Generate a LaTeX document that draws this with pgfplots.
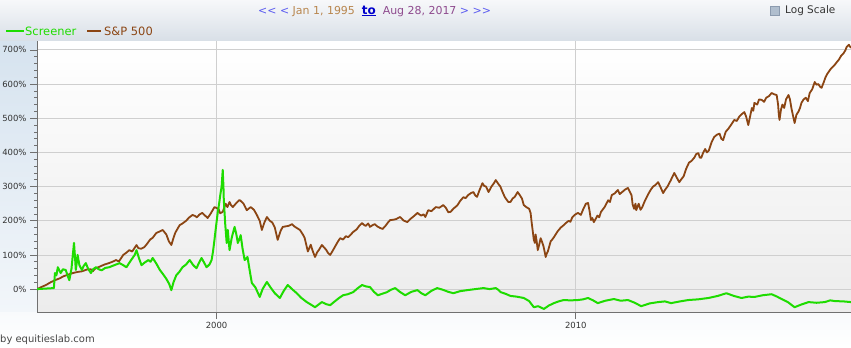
\documentclass[border=0pt]{standalone}
\usepackage{fontspec}
\setmainfont{DejaVu Sans}
\newfontfamily\plainfont{DejaVu Sans}
\usepackage{pgfplots}
\pgfplotsset{compat=1.18}
\definecolor{scr}{HTML}{1EDC00}
\definecolor{spx}{HTML}{8B4513}
\definecolor{navb}{HTML}{5A5AF0}
\definecolor{datea}{HTML}{B8864E}
\definecolor{dateb}{HTML}{8E4A8E}
\definecolor{gridc}{HTML}{CFCFCF}
\definecolor{axc}{HTML}{707070}
\definecolor{txtc}{HTML}{333333}

\pgfplotstableread{
x y
1995.00 0
1995.12 6
1995.25 12
1995.38 20
1995.50 26
1995.62 31
1995.75 38
1995.88 43
1996.00 47
1996.12 50
1996.25 52
1996.38 57
1996.50 58
1996.55 52
1996.62 60
1996.75 66
1996.88 72
1997.00 76
1997.10 80
1997.20 85
1997.28 81
1997.40 100
1997.48 106
1997.57 114
1997.65 110
1997.77 129
1997.82 120
1997.90 118
1997.99 123
1998.06 132
1998.15 145
1998.22 150
1998.32 164
1998.40 168
1998.50 173
1998.56 165
1998.60 160
1998.67 140
1998.74 129
1998.80 150
1998.85 165
1998.92 178
1998.97 187
1999.05 192
1999.15 200
1999.24 210
1999.33 217
1999.40 214
1999.45 210
1999.52 218
1999.60 223
1999.68 215
1999.75 208
1999.84 222
1999.94 240
2000.05 235
2000.10 222
2000.17 226
2000.25 250
2000.30 240
2000.36 255
2000.40 246
2000.45 240
2000.55 252
2000.64 261
2000.70 255
2000.75 250
2000.84 231
2000.90 236
2000.95 240
2001.04 232
2001.12 217
2001.20 200
2001.26 173
2001.33 195
2001.40 211
2001.48 200
2001.55 195
2001.62 180
2001.70 144
2001.78 170
2001.84 182
2002.00 185
2002.10 190
2002.17 183
2002.23 179
2002.32 173
2002.40 160
2002.45 150
2002.50 128
2002.54 110
2002.58 120
2002.62 130
2002.68 110
2002.74 94
2002.80 108
2002.85 115
2002.93 129
2003.00 121
2003.05 115
2003.10 106
2003.16 100
2003.22 110
2003.30 125
2003.37 138
2003.44 149
2003.52 145
2003.60 155
2003.66 152
2003.72 158
2003.80 167
2003.90 175
2003.97 185
2004.05 193
2004.10 188
2004.15 185
2004.22 192
2004.27 182
2004.34 187
2004.40 190
2004.48 183
2004.55 179
2004.62 176
2004.70 185
2004.77 195
2004.83 202
2004.92 203
2005.00 205
2005.05 208
2005.11 211
2005.20 201
2005.31 196
2005.38 204
2005.45 210
2005.52 216
2005.59 223
2005.65 218
2005.70 215
2005.76 219
2005.81 211
2005.89 231
2005.98 228
2006.10 240
2006.20 238
2006.31 246
2006.38 238
2006.45 225
2006.51 226
2006.60 236
2006.70 245
2006.78 258
2006.87 269
2006.93 266
2007.00 275
2007.08 281
2007.15 284
2007.20 274
2007.25 270
2007.32 290
2007.40 310
2007.45 302
2007.50 300
2007.57 284
2007.61 292
2007.65 300
2007.72 310
2007.77 319
2007.84 308
2007.90 300
2007.96 284
2008.02 270
2008.05 265
2008.12 255
2008.18 255
2008.24 265
2008.30 270
2008.38 284
2008.44 275
2008.50 265
2008.55 246
2008.62 240
2008.70 235
2008.74 223
2008.77 195
2008.80 170
2008.83 144
2008.86 135
2008.88 160
2008.91 140
2008.94 114
2008.98 130
2009.02 149
2009.06 138
2009.10 125
2009.13 110
2009.16 94
2009.19 104
2009.22 110
2009.26 125
2009.30 140
2009.35 146
2009.39 152
2009.45 162
2009.50 170
2009.58 180
2009.66 187
2009.72 193
2009.80 200
2009.85 197
2009.90 210
2009.98 218
2010.06 223
2010.14 217
2010.21 235
2010.28 250
2010.34 252
2010.38 230
2010.42 202
2010.46 208
2010.50 196
2010.55 205
2010.60 215
2010.65 210
2010.70 226
2010.80 240
2010.90 260
2010.95 255
2011.00 275
2011.08 280
2011.17 290
2011.22 278
2011.30 285
2011.38 292
2011.45 296
2011.50 285
2011.55 275
2011.58 248
2011.62 235
2011.66 250
2011.68 231
2011.72 242
2011.75 250
2011.80 232
2011.85 240
2011.92 258
2012.00 275
2012.08 290
2012.15 300
2012.22 305
2012.29 313
2012.35 300
2012.43 281
2012.48 290
2012.55 300
2012.64 318
2012.74 340
2012.80 328
2012.88 313
2012.94 322
2013.00 330
2013.07 352
2013.15 370
2013.22 375
2013.30 385
2013.35 395
2013.41 398
2013.45 385
2013.49 384
2013.54 398
2013.60 410
2013.65 400
2013.70 405
2013.78 430
2013.85 445
2013.93 452
2014.00 455
2014.05 440
2014.10 436
2014.17 460
2014.25 470
2014.33 482
2014.41 495
2014.48 492
2014.55 505
2014.62 512
2014.69 518
2014.74 505
2014.80 480
2014.85 505
2014.90 530
2014.94 522
2014.97 545
2015.05 540
2015.10 555
2015.17 554
2015.24 548
2015.30 560
2015.38 565
2015.45 574
2015.52 570
2015.59 568
2015.63 540
2015.65 510
2015.67 495
2015.71 525
2015.75 540
2015.80 530
2015.85 555
2015.92 568
2015.96 555
2016.00 530
2016.05 505
2016.09 486
2016.14 510
2016.20 520
2016.24 530
2016.28 545
2016.34 555
2016.40 560
2016.46 550
2016.51 574
2016.58 585
2016.65 606
2016.70 598
2016.75 600
2016.80 592
2016.84 589
2016.90 605
2016.95 620
2017.00 630
2017.04 636
2017.10 645
2017.15 650
2017.22 658
2017.27 665
2017.32 671
2017.38 682
2017.45 690
2017.50 698
2017.54 709
2017.60 715
2017.63 710
2017.66 706
}\spxdata

\pgfplotstableread{
x y
1995.00 0
1995.47 3
1995.50 47
1995.54 40
1995.58 64
1995.62 55
1995.66 47
1995.72 58
1995.80 56
1995.85 40
1995.90 26
1995.96 60
1996.03 135
1996.06 90
1996.08 56
1996.11 80
1996.13 100
1996.18 70
1996.25 56
1996.30 68
1996.36 76
1996.42 60
1996.50 47
1996.56 58
1996.64 64
1996.72 58
1996.80 55
1996.90 62
1997.01 64
1997.15 70
1997.30 76
1997.40 70
1997.49 64
1997.60 82
1997.72 100
1997.77 114
1997.84 90
1997.91 70
1998.00 78
1998.10 85
1998.16 80
1998.22 91
1998.32 75
1998.42 56
1998.50 45
1998.60 30
1998.68 15
1998.74 -3
1998.80 20
1998.88 41
1998.96 50
1999.05 64
1999.15 72
1999.25 85
1999.35 70
1999.44 61
1999.50 75
1999.58 91
1999.65 78
1999.72 64
1999.80 72
1999.86 85
1999.90 110
1999.94 144
1999.98 180
2000.03 223
2000.07 250
2000.11 281
2000.14 300
2000.17 349
2000.19 300
2000.20 261
2000.24 190
2000.28 135
2000.31 173
2000.36 114
2000.42 150
2000.50 182
2000.55 160
2000.59 135
2000.63 145
2000.67 158
2000.72 120
2000.78 85
2000.86 94
2000.92 55
2000.98 18
2001.08 5
2001.20 -23
2001.28 0
2001.40 21
2001.50 5
2001.62 -12
2001.70 -20
2001.76 -26
2001.87 -5
2001.98 12
2002.10 0
2002.23 -12
2002.35 -25
2002.51 -38
2002.62 -45
2002.74 -53
2002.84 -45
2002.93 -38
2003.05 -44
2003.16 -47
2003.30 -35
2003.42 -25
2003.52 -18
2003.65 -15
2003.80 -9
2003.92 2
2004.05 12
2004.15 8
2004.27 6
2004.38 -8
2004.49 -18
2004.60 -14
2004.74 -9
2004.85 -2
2004.97 3
2005.10 -8
2005.25 -18
2005.42 -8
2005.59 -3
2005.70 -12
2005.81 -18
2005.98 -5
2006.14 3
2006.30 -2
2006.45 -8
2006.59 -12
2006.78 -6
2006.98 -3
2007.20 0
2007.43 3
2007.60 0
2007.77 3
2007.84 -2
2007.91 -9
2008.05 -14
2008.18 -20
2008.35 -22
2008.55 -26
2008.70 -35
2008.83 -53
2008.95 -50
2009.11 -58
2009.25 -48
2009.39 -41
2009.52 -36
2009.66 -32
2009.85 -33
2010.06 -32
2010.20 -30
2010.34 -26
2010.48 -33
2010.61 -41
2010.82 -34
2011.06 -29
2011.25 -34
2011.45 -32
2011.64 -40
2011.82 -50
2012.05 -42
2012.29 -38
2012.48 -36
2012.65 -41
2012.90 -36
2013.13 -32
2013.40 -30
2013.69 -26
2013.95 -20
2014.19 -12
2014.40 -20
2014.61 -26
2014.80 -22
2014.97 -23
2015.20 -18
2015.45 -15
2015.60 -22
2015.73 -29
2015.90 -38
2016.09 -53
2016.28 -45
2016.48 -38
2016.70 -40
2016.93 -38
2017.08 -33
2017.21 -35
2017.45 -36
2017.66 -38
}\scrdata

\begin{document}
\begin{tikzpicture}[x=1bp,y=1bp]
\fill[white] (0,0) rectangle (851,347);
\shade[top color={rgb,255:red,247;green,248;blue,250}, bottom color={rgb,255:red,216;green,223;blue,231}] (0,306) rectangle (851,347);
\shade[top color={rgb,255:red,214;green,227;blue,239}, bottom color={rgb,255:red,242;green,246;blue,250}] (0,35) rectangle (37,306);
\shade[top color={rgb,255:red,248;green,250;blue,252}, bottom color=white] (0,0) rectangle (851,35);
\useasboundingbox (0,0) rectangle (851,347);
\begin{axis}[
  at={(37bp,35bp)}, anchor=south west,
  scale only axis, width=814bp, height=271bp,
  xmin=1995, xmax=2017.66, ymin=-67, ymax=726,
  axis background/.style={shade, top color=white, bottom color={rgb,255:red,236;green,236;blue,236}},
  axis x line*=bottom, axis y line*=left,
  axis line style={axc, line width=0.9bp, -},
  xtick={2000,2010}, xticklabels={2000,2010},
  ytick={0,100,...,700},
  yticklabel={\pgfmathprintnumber{\tick}\%},
  minor y tick num=4,
  tick align=outside,
  major tick length=7bp, minor tick length=3bp,
  tick style={axc, line width=0.7bp},
  xmajorgrids, ymajorgrids,
  major grid style={gridc, line width=0.8bp},
  extra y ticks={0}, extra y tick labels={},
  extra y tick style={grid style={color={rgb,255:red,90;green,90;blue,90}, line width=1.1bp}, major tick length=0bp},
  ticklabel style={font=\fontsize{8.5}{10}\selectfont, text=txtc},
  /pgf/number format/assume math mode=true,
  /pgf/number format/1000 sep={},
  clip=true,
]
\addplot[spx, line width=1.8bp, line join=round] table[x=x,y=y] {\spxdata};
\addplot[scr, line width=2bp, line join=round] table[x=x,y=y] {\scrdata};
\end{axis}
% legend
\draw[scr, line width=2.2bp] (6,316) -- (24,316);
\node[anchor=west, inner sep=0, text=scr, font=\fontsize{11.5}{13}\selectfont] at (25,316) {Screener};
\draw[spx, line width=2.2bp] (87,316) -- (101,316);
\node[anchor=west, inner sep=0, text=spx, font=\fontsize{11.5}{13}\selectfont] at (104,316) {S\&P 500};
% header
\node[anchor=west, inner sep=0, font=\plainfont\fontsize{11}{13}\selectfont] at (258,336) {\textcolor{navb}{<< <}\ \textcolor{datea}{Jan 1, 1995}\ \ \textcolor{blue!80!black}{\underline{\fontsize{12}{13}\selectfont\textbf{to}}}\ \ \textcolor{dateb}{Aug 28, 2017}\ \textcolor{navb}{> >>}};
\draw[fill={rgb,255:red,176;green,190;blue,206}, draw={rgb,255:red,140;green,155;blue,175}] (770,331.5) rectangle (779.5,341);
\node[anchor=west, inner sep=0, text=txtc, font=\fontsize{10.5}{12}\selectfont] at (785,336) {Log Scale};
\node[anchor=west, inner sep=0, text={rgb,255:red,70;green,70;blue,70}, font=\fontsize{10}{12}\selectfont] at (0,7) {by equitieslab.com};
\end{tikzpicture}
\end{document}
